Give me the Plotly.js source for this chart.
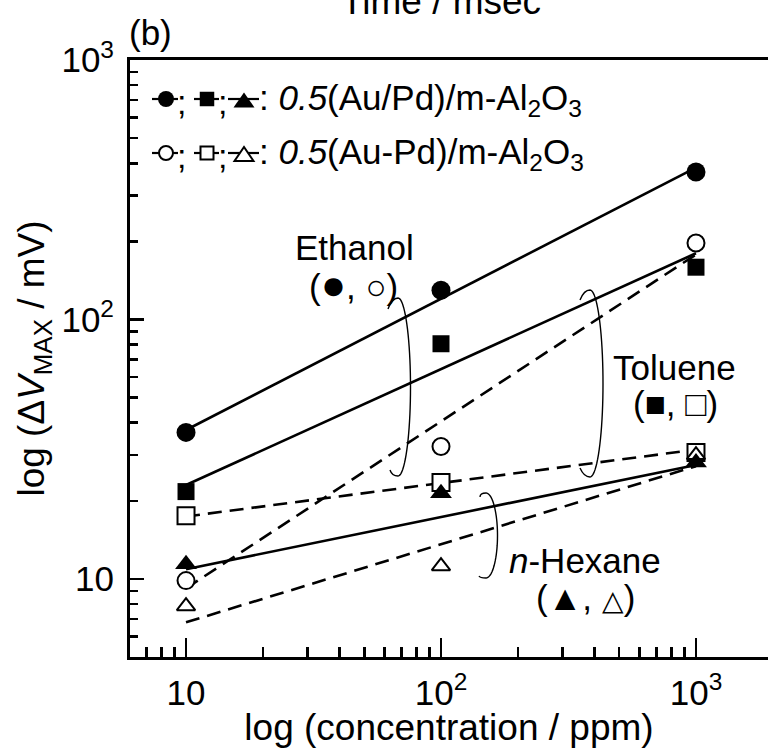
<!DOCTYPE html>
<html>
<head>
<meta charset="utf-8">
<script src="https://cdn.plot.ly/plotly-3.0.1.min.js"></script>
<style>
html,body{margin:0;padding:0;background:#fff;}
#chart{width:768px;height:748px;}
</style>
</head>
<body>
<div id="chart"></div>
<script>
// ---- data ----
const concentration = [10, 100, 1000];
const ethanolSep   = [36.7, 129.6, 370];   // filled circle, 0.5(Au/Pd)/m-Al2O3
const tolueneSep   = [21.7, 80.6, 159];    // filled square
const hexaneSep    = [11.4, 21.4, 28.1];   // filled triangle
const ethanolAlloy = [9.85, 32.4, 197];    // open circle, 0.5(Au-Pd)/m-Al2O3
const tolueneAlloy = [17.5, 23.5, 30.7];   // open square
const hexaneAlloy  = [7.85, 11.2, 30.0];   // open triangle

// fitted lines (end values read at 10 and 1000 ppm)
const fitX = [10, 1000];
const fitEthanolSep   = [37.5, 385];
const fitTolueneSep   = [23.0, 180];
const fitHexaneSep    = [10.9, 27.5];
const fitEthanolAlloy = [9.2, 178];
const fitTolueneAlloy = [17.4, 31.5];
const fitHexaneAlloy  = [6.8, 27.2];

const xTickVals = [10, 100, 1000];
const xTickText = ['10', '10<sup>2</sup>', '10<sup>3</sup>'];
const yTickVals = [10, 100, 1000];
const yTickText = ['10', '10<sup>2</sup>', '10<sup>3</sup>'];
const xMinor = [7, 8, 9, 20, 30, 40, 50, 60, 70, 80, 90, 200, 300, 400, 500, 600, 700, 800, 900];
const yMinor = [6, 7, 8, 9, 20, 30, 40, 50, 60, 70, 80, 90, 200, 300, 400, 500, 600, 700, 800, 900];

// ---- layout helpers ----
const FONT = 'Liberation Sans, Arial, Helvetica, sans-serif';
const L = 130, T = 60, W = 638, H = 597;
const px = x => (x - L) / W;
const py = y => (T + H - y) / H;
const DASH = '14px,8px';

function fitTrace(y, dashed) {
  return {x: fitX, y: y, mode: 'lines', type: 'scatter', hoverinfo: 'skip',
          line: {color: 'black', width: 2.6, dash: dashed ? DASH : 'solid'}};
}
function markerTrace(y, symbol, filled, size) {
  return {x: concentration, y: y, mode: 'markers', type: 'scatter',
          marker: {symbol: symbol, size: size, color: filled ? 'black' : 'white',
                   line: {color: 'black', width: filled ? 0 : 2}}};
}

const data = [
  fitTrace(fitEthanolSep, false),
  fitTrace(fitTolueneSep, false),
  fitTrace(fitHexaneSep, false),
  fitTrace(fitEthanolAlloy, true),
  fitTrace(fitTolueneAlloy, true),
  fitTrace(fitHexaneAlloy, true),
  markerTrace(ethanolAlloy, 'circle', false, 17),
  markerTrace(tolueneAlloy, 'square', false, 17),
  markerTrace(hexaneAlloy, 'triangle-up', false, 16),
  markerTrace(ethanolSep, 'circle', true, 19),
  markerTrace(tolueneSep, 'square', true, 17),
  markerTrace(hexaneSep, 'triangle-up', true, 19)
];

// curly bracket ")" with curled ends, in pixel space -> paper
function bracket(cx, top, bottom, rx, sx, sy, ex, ey) {
  const cy = (top + bottom) / 2, ry = (bottom - top) / 2;
  let p = 'M ' + px(sx) + ',' + py(sy) + ' Q ' + px(cx - 6) + ',' + py(top) + ' ' + px(cx) + ',' + py(top);
  for (let i = 1; i <= 40; i++) {
    const t = Math.PI / 2 - Math.PI * i / 40;
    p += ' L ' + px(cx + rx * Math.cos(t)) + ',' + py(cy - ry * Math.sin(t));
  }
  p += ' Q ' + px(cx - 6) + ',' + py(bottom) + ' ' + px(ex) + ',' + py(ey);
  return {type: 'path', xref: 'paper', yref: 'paper', path: p, line: {color: 'black', width: 1.4}};
}

function seg(x0, x1, y) {
  return {type: 'line', xref: 'paper', yref: 'paper', x0: px(x0), x1: px(x1), y0: py(y), y1: py(y),
          line: {color: 'black', width: 2.2}};
}
function circ(cx, cy, d, filled) {
  return {type: 'circle', xref: 'paper', yref: 'paper', x0: px(cx - d / 2), x1: px(cx + d / 2),
          y0: py(cy + d / 2), y1: py(cy - d / 2), fillcolor: filled ? 'black' : 'white',
          line: {color: 'black', width: filled ? 0 : 2}};
}
function sq(cx, cy, s, filled) {
  return {type: 'rect', xref: 'paper', yref: 'paper', x0: px(cx - s / 2), x1: px(cx + s / 2),
          y0: py(cy + s / 2), y1: py(cy - s / 2), fillcolor: filled ? 'black' : 'white',
          line: {color: 'black', width: filled ? 0 : 2}};
}
function tri(cx, cy, w, h, filled) {
  const p = 'M ' + px(cx - w / 2) + ',' + py(cy + h / 2) + ' L ' + px(cx + w / 2) + ',' + py(cy + h / 2) +
            ' L ' + px(cx) + ',' + py(cy - h / 2) + ' Z';
  return {type: 'path', xref: 'paper', yref: 'paper', path: p, fillcolor: filled ? 'black' : 'white',
          line: {color: 'black', width: filled ? 0 : 2}};
}

const r1 = 99, r2 = 153;
const shapes = [
  bracket(398, 298, 476, 12.5, 388, 309, 390, 470),
  bracket(590, 290, 477, 13, 580, 300, 580, 468),
  bracket(486, 493, 578, 11.5, 480, 497, 479, 576),
  seg(152, 178, r1), circ(166, r1, 16, true),
  seg(194, 219, r1), sq(207, r1, 14.5, true),
  seg(228, 259, r1), tri(244, r1 + 1, 21, 15, true),
  seg(152, 178, r2), circ(166, r2, 14, false),
  seg(194, 219, r2), sq(207, r2, 13, false),
  seg(228, 259, r2), tri(244, r2 + 1, 19, 14, false)
];

function ann(text, x, y, size, xanchor, extra) {
  return Object.assign({text: text, xref: 'paper', yref: 'paper', x: px(x), y: py(y), showarrow: false,
          xanchor: xanchor || 'center', yanchor: 'middle', font: {family: FONT, size: size, color: 'black'}}, extra || {});
}

const BIG = s => '<span style="font-size:' + s + 'px">';
const annotations = [
  ann('Time / msec', 441, 1, 37),
  ann('(b)', 127, 33, 35, 'left'),
  ann(';', 175, r1 + 3, 34, 'left'),
  ann(';', 216, r1 + 3, 34, 'left'),
  ann(': <i>0.5</i>(Au/Pd)/m-Al<sub>2</sub>O<sub>3</sub>', 257, r1 + 1, 35, 'left'),
  ann(';', 175, r2 + 3, 34, 'left'),
  ann(';', 216, r2 + 3, 34, 'left'),
  ann(': <i>0.5</i>(Au-Pd)/m-Al<sub>2</sub>O<sub>3</sub>', 257, r2 + 1, 35, 'left'),
  ann('Ethanol', 354, 247.5, 35),
  ann('(' + BIG(42) + '●</span>, ○)', 353, 284, 35),
  ann('Toluene', 674, 367.5, 35),
  ann('(■, □)', 675, 403, 35),
  ann('<i>n</i>-Hexane', 585, 560, 35),
  ann('(▲, ' + BIG(28) + '△</span>)', 585, 597, 35)
];

const axisCommon = {
  type: 'log', showgrid: false, zeroline: false, showline: true, linecolor: 'black', linewidth: 3,
  ticks: 'inside', tickcolor: 'black', tickwidth: 2.5, tickmode: 'array',
  tickfont: {family: FONT, size: 35, color: 'black'}
};

const layout = {
  width: 768, height: 748,
  margin: {l: L, r: 0, t: T, b: 748 - T - H},
  paper_bgcolor: 'white', plot_bgcolor: 'white',
  showlegend: false,
  font: {family: FONT, color: 'black'},
  xaxis: Object.assign({}, axisCommon, {
    range: [Math.log10(6.03), 3.2824],
    tickvals: xTickVals, ticktext: xTickText, ticklen: 19, mirror: true,
    ticklabelstandoff: 3,
    minor: {tickmode: 'array', tickvals: xMinor, ticks: 'inside', ticklen: 10, tickwidth: 2.5, tickcolor: 'black', showgrid: false},
    title: {text: 'log (concentration / ppm)', font: {family: FONT, size: 37, color: 'black'}, standoff: 6}
  }),
  yaxis: Object.assign({}, axisCommon, {
    range: [Math.log10(5), 3],
    tickvals: yTickVals, ticktext: yTickText, ticklen: 14, mirror: false,
    ticklabelstandoff: 6,
    minor: {tickmode: 'array', tickvals: yMinor, ticks: 'inside', ticklen: 8, tickwidth: 2.5, tickcolor: 'black', showgrid: false},
    title: {text: 'log (Δ<i>V</i><sub>MAX</sub> / mV)', font: {family: FONT, size: 37, color: 'black'}, standoff: 6}
  }),
  shapes: shapes,
  annotations: annotations
};

Plotly.newPlot('chart', data, layout, {displayModeBar: false, staticPlot: true});
</script>
</body>
</html>
